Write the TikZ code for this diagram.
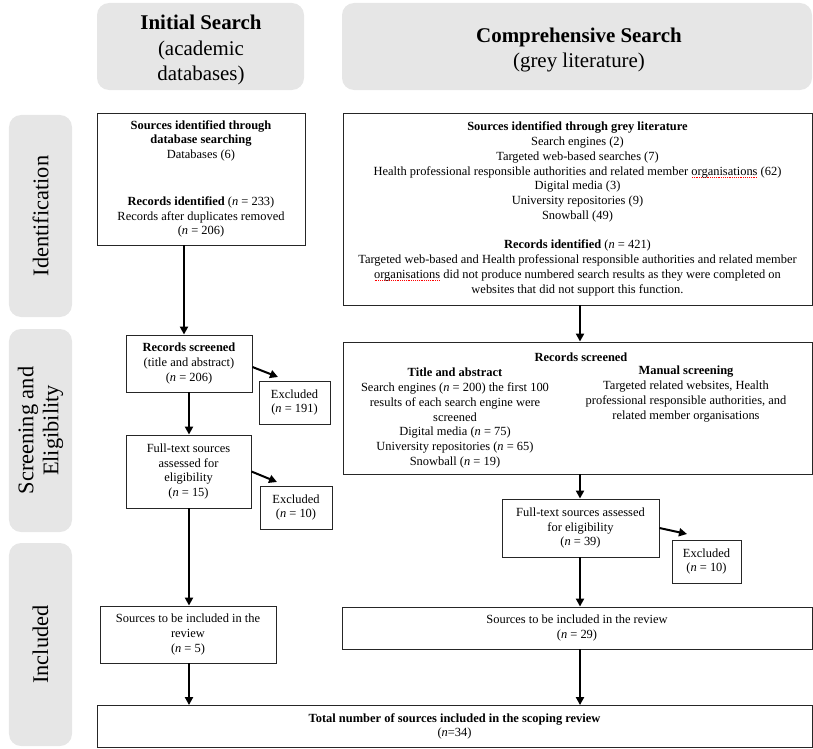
\documentclass[tikz,border=0pt]{standalone}
\usepackage{fontspec}
\setmainfont{Liberation Serif}
\usetikzlibrary{arrows.meta}
\definecolor{labgrey}{HTML}{E6E6E6}
\newcommand\bodyfont{\fontsize{12.5}{14.8}\selectfont}
\newcommand\hdrfont{\fontsize{21}{25.5}\selectfont}
\newcommand\sidefont{\fontsize{22.5}{25}\selectfont}
\newcommand\spellerr[1]{\setbox0\hbox{#1}\rlap{\raisebox{-2.6bp}{\color{red}\hbox to \wd0{\xleaders\hbox to 1.8bp{\hss\rule{0.9bp}{0.7bp}\hss}\hfill}}}\box0{}}
\begin{document}
\begin{tikzpicture}[x=1bp,y=-1bp,
  box/.style={draw=black!85,line width=0.9bp,fill=white,inner sep=0,align=center,font=\bodyfont},
  txt/.style={inner sep=0,align=center,font=\bodyfont},
  lab/.style={fill=labgrey,rounded corners=12bp,inner sep=0,align=center},
  hdrtxt/.style={inner sep=0,align=center,font=\hdrfont},
  arr/.style={line width=2bp,-{Triangle[length=8bp,width=8bp]}}]
\useasboundingbox (0,0) rectangle (813,749);
% headers
\node[lab,minimum width=207bp,minimum height=87bp] (h1) at (200.5,46.5) {};
\node[hdrtxt] (h1t) at (201,50) {\textbf{Initial Search}\\(academic\\databases)};
\node[lab,minimum width=470bp,minimum height=87bp] (h2) at (577,46.5) {};
\node[hdrtxt] (h2t) at (579,50) {\textbf{Comprehensive Search}\\(grey literature)};
% side labels
\node[lab,font=\sidefont,rotate=90,minimum width=202bp,minimum height=63bp] (s1) at (40.5,216) {Identification};
\node[lab,font=\sidefont,rotate=90,minimum width=203bp,minimum height=63bp] (s2) at (40.5,430.5) {Screening and\\Eligibility};
\node[lab,font=\sidefont,rotate=90,minimum width=203bp,minimum height=63bp] (s3) at (40.5,644.5) {Included};
% left column
\node[box,minimum width=208bp,minimum height=132bp] (A) at (201,179) {\textbf{Sources identified through}\\\textbf{database searching}\\Databases (6)\\[32bp]\textbf{Records identified} (\textit{n} = 233)\\Records after duplicates removed\\(\textit{n} = 206)};
\node[box,minimum width=126bp,minimum height=57bp] (RS1) at (189,363.5) {\textbf{Records screened}\\(title and abstract)\\(\textit{n} = 206)};
\node[box,minimum width=71bp,minimum height=43bp] (EX1) at (294.5,402.5) {Excluded\\(\textit{n} = 191)};
\node[box,minimum width=125bp,minimum height=73bp] (FT1) at (188.5,471.5) {Full-text sources\\assessed for\\eligibility\\(\textit{n} = 15)};
\node[box,minimum width=72bp,minimum height=43bp] (EX2) at (296,507.5) {Excluded\\(\textit{n} = 10)};
\node[box,minimum width=176bp,minimum height=57bp] (SI1) at (188,634.5) {Sources to be included in the\\review\\(\textit{n} = 5)};
% right column
\node[box,minimum width=469bp,minimum height=192bp] (G) at (577.5,209) {\textbf{Sources identified through grey literature}\\Search engines (2)\\Targeted web-based searches (7)\\Health professional responsible authorities and related member \spellerr{organisations} (62)\\Digital media (3)\\University repositories (9)\\Snowball (49)\\[14.8bp]\textbf{Records identified} (\textit{n} = 421)\\Targeted web-based and Health professional responsible authorities and related member\\\spellerr{organisations} did not produce numbered search results as they were completed on\\websites that did not support this function.};
\node[box,minimum width=469bp,minimum height=132bp] (RS2) at (577.5,408) {};
\node[txt] (rs2t) at (581,357) {\textbf{Records screened}};
\node[txt] (rs2l) at (455,418) {\textbf{Title and abstract}\\Search engines (\textit{n} = 200) the first 100\\results of each search engine were\\screened\\Digital media (\textit{n} = 75)\\University repositories (\textit{n} = 65)\\Snowball (\textit{n} = 19)};
\node[txt] (rs2r) at (686,394) {\textbf{Manual screening}\\Targeted related websites, Health\\professional responsible authorities, and\\related member organisations};
\node[box,minimum width=157bp,minimum height=58bp] (FT2) at (580.5,528) {Full-text sources assessed\\for eligibility\\(\textit{n} = 39)};
\node[box,minimum width=69bp,minimum height=43bp] (EX3) at (706.5,561.5) {Excluded\\(\textit{n} = 10)};
\node[box,minimum width=470bp,minimum height=42bp] (SI2) at (577,628) {Sources to be included in the review\\(\textit{n} = 29)};
% total
\node[box,minimum width=715bp,minimum height=42bp] (T) at (454.5,726.5) {\textbf{Total number of sources included in the scoping review}\\(\textit{n}=34)};
% column coordinates
\coordinate (c1) at (184,0);
\coordinate (c2) at (189,0);
\coordinate (c3) at (580,0);
\coordinate (e1) at (278,377);
\coordinate (e2) at (277,482);
\coordinate (e3) at (687,534);
% arrows
\draw[arr] (A.south -| c1) -- (RS1.north -| c1);
\draw[arr] (RS1.south -| c2) -- (FT1.north -| c2);
\draw[arr] (FT1.south -| c2) -- (SI1.north -| c2);
\draw[arr] (SI1.south -| c2) -- (T.north -| c2);
\draw[arr] (G.south -| c3) -- (RS2.north -| c3);
\draw[arr] (RS2.south -| c3) -- (FT2.north -| c3);
\draw[arr] (FT2.south -| c3) -- (SI2.north -| c3);
\draw[arr] (SI2.south -| c3) -- (T.north -| c3);
\draw[arr] (RS1.east) ++(0,3.5) -- (e1);
\draw[arr] (FT1.east) -- (e2);
\draw[arr] (FT2.east) -- (e3);
\end{tikzpicture}
\end{document}
